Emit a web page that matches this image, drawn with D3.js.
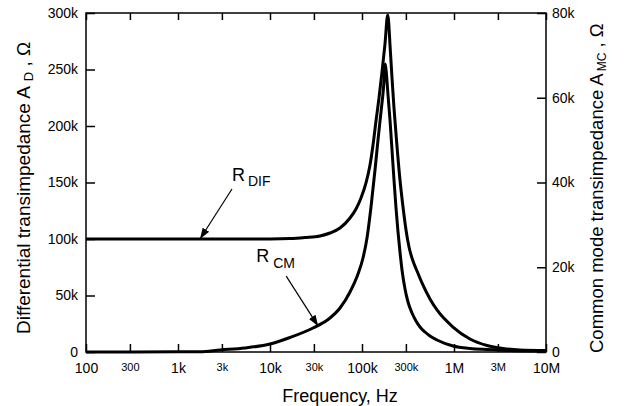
<!DOCTYPE html>
<html><head><meta charset="utf-8">
<script src="https://cdn.jsdelivr.net/npm/d3@7"></script>
<style>
html,body{margin:0;padding:0;background:#fff;}
svg{display:block;font-family:"Liberation Sans",Arial,sans-serif;}
</style></head>
<body><svg id="c" width="626" height="406"></svg>
<script>
// ---- data ----
const difFreq = [100,300,1000,3000,10000,16500,24010,34960,44890,57680,74060,86060,97520,110540,122180,131740,141950,153010,165000,177830,190250,194550,201560,211910,222730,237140,258820,279100,300860,324300,358450,396150,448900,548400,653400,975200,1492500,2284000,3409000,5216000,10000000];
const difValue = [100000,100000,100000,100000,100100,100400,101300,102700,105300,109700,118600,126500,136300,149600,165500,183200,204400,224800,247800,272600,298200,292900,271700,242500,215900,187600,152200,128300,108000,92900,80500,71700,61100,46900,37200,22100,11500,5750,3100,1800,1300];

const cmFreq = [100,300,1000,1734,2861,5349,10000,16500,29340,44890,57680,74060,90460,102540,113340,125270,138460,149250,160860,171280,179230,184680,191730,201560,211910,222730,234250,246260,258820,272170,293460,316230,349500,386400,427000,484000,548400,653400,975200,1492500,2284000,4061000,10000000];
const cmValue = [0,10,35,71,472,944,1888,3422,5664,8024,10383,14159,18407,22183,26903,34220,42950,50030,56640,62300,67970,65370,60650,54750,47670,40590,33980,28320,23600,19350,14870,11800,9200,7320,5900,4720,3780,2830,1420,826,590,354,236];

const xTicks = [100,300,1e3,3e3,1e4,3e4,1e5,3e5,1e6,3e6,1e7];
const xTickLabels = ["100","300","1k","3k","10k","30k","100k","300k","1M","3M","10M"];
const xMinorLabel = [false,true,false,true,false,true,false,true,false,true,false];
const yLeftTicks = [0,50000,100000,150000,200000,250000,300000];
const yLeftLabels = ["0","50k","100k","150k","200k","250k","300k"];
const yRightTicks = [0,20000,40000,60000,80000];
const yRightLabels = ["0","20k","40k","60k","80k"];

// annotations: label, subscript, target freq, target value, axis
const annoLabel = ["R","R"];
const annoSub = ["DIF","CM"];
const annoFreq = [1734, 33400];
const annoValue = [100000, 6100];
const annoAxis = ["left","right"];

// ---- layout ----
const W=626,H=406, m={l:86,t:13,r:80,b:54};
const svg=d3.select("#c");
const x=d3.scaleLog().domain([100,1e7]).range([m.l,W-m.r]);
const yL=d3.scaleLinear().domain([0,300000]).range([H-m.b,m.t]);
const yR=d3.scaleLinear().domain([0,80000]).range([H-m.b,m.t]);

svg.append("defs").append("marker").attr("id","ah").attr("viewBox","0 0 10 10")
  .attr("refX",10).attr("refY",5).attr("markerWidth",11).attr("markerHeight",11)
  .attr("markerUnits","userSpaceOnUse").attr("orient","auto")
  .append("path").attr("d","M0,1.5L10,5L0,8.5Z").attr("fill","#000");

// curves
const difData=difFreq.map((f,i)=>[f,difValue[i]]);
const cmData=cmFreq.map((f,i)=>[f,cmValue[i]]);
const lineL=d3.line().x(d=>x(d[0])).y(d=>yL(d[1])).curve(d3.curveMonotoneX);
const lineR=d3.line().x(d=>x(d[0])).y(d=>yR(d[1])).curve(d3.curveMonotoneX);
svg.append("path").datum(cmData).attr("d",lineR).attr("fill","none").attr("stroke","#000").attr("stroke-width",3).attr("stroke-linejoin","round");
svg.append("path").datum(difData).attr("d",lineL).attr("fill","none").attr("stroke","#000").attr("stroke-width",3).attr("stroke-linejoin","round");

// axes
function styleAxis(g){g.select(".domain").remove();g.selectAll(".tick line").attr("stroke","#000").attr("stroke-width",1.5);g.selectAll("text").attr("fill","#000");}
const gb=svg.append("g").attr("transform",`translate(0,${H-m.b})`)
  .call(d3.axisBottom(x).tickValues(xTicks).tickFormat((d,i)=>xTickLabels[i]).tickSize(-8).tickPadding(11));
styleAxis(gb);
gb.selectAll("text").attr("font-size",(d,i)=>xMinorLabel[i]?"11px":"14px").attr("font-family",null);
svg.append("g").attr("transform",`translate(0,${m.t})`)
  .call(d3.axisTop(x).tickValues(xTicks).tickFormat("").tickSize(-7)).call(styleAxis);
const gl=svg.append("g").attr("transform",`translate(${m.l},0)`)
  .call(d3.axisLeft(yL).tickValues(yLeftTicks).tickFormat((d,i)=>yLeftLabels[i]).tickSize(-9).tickPadding(8));
styleAxis(gl); gl.selectAll("text").attr("font-size","14px").attr("font-family",null);
const gr=svg.append("g").attr("transform",`translate(${W-m.r},0)`)
  .call(d3.axisRight(yR).tickValues(yRightTicks).tickFormat((d,i)=>yRightLabels[i]).tickSize(-9).tickPadding(6));
styleAxis(gr); gr.selectAll("text").attr("font-size","14px").attr("font-family",null);

// frame
svg.append("rect").attr("x",m.l).attr("y",m.t).attr("width",W-m.l-m.r).attr("height",H-m.t-m.b)
  .attr("fill","none").attr("stroke","#000").attr("stroke-width",1.5);

// titles
svg.append("text").attr("x",340).attr("y",402).attr("text-anchor","middle").attr("font-size","18px").text("Frequency, Hz");
const tl=svg.append("text").attr("transform","translate(30,334) rotate(-90)").attr("font-size","19px");
tl.append("tspan").text("Differential transimpedance A");
tl.append("tspan").attr("dx",5).attr("dy",3).attr("font-size","13px").text("D");
tl.append("tspan").attr("dy",-3).text(" , Ω");
const tr=svg.append("text").attr("transform","translate(603,353) rotate(-90)").attr("font-size","18.5px");
tr.append("tspan").text("Common mode transimpedance A");
tr.append("tspan").attr("dx",2).attr("dy",3).attr("font-size","12px").text("MC");
tr.append("tspan").attr("dy",-3).text(" , Ω");

// annotations
const tailOff=[[32,-50],[-32,-50]];
const textOff=[[32,-58],[-62,-64]];
const subOff=[[48,-53],[-45,-58]];
annoLabel.forEach((lab,i)=>{
  const tx=x(annoFreq[i]), ty=(annoAxis[i]==="left"?yL:yR)(annoValue[i]);
  svg.append("line").attr("x1",tx+tailOff[i][0]).attr("y1",ty+tailOff[i][1]).attr("x2",tx).attr("y2",ty)
    .attr("stroke","#000").attr("stroke-width",1.2).attr("marker-end","url(#ah)");
  svg.append("text").attr("x",tx+textOff[i][0]).attr("y",ty+textOff[i][1]).attr("font-size","18px").text(lab);
  svg.append("text").attr("x",tx+subOff[i][0]).attr("y",ty+subOff[i][1]).attr("font-size","14px").text(annoSub[i]);
});
</script></body></html>
